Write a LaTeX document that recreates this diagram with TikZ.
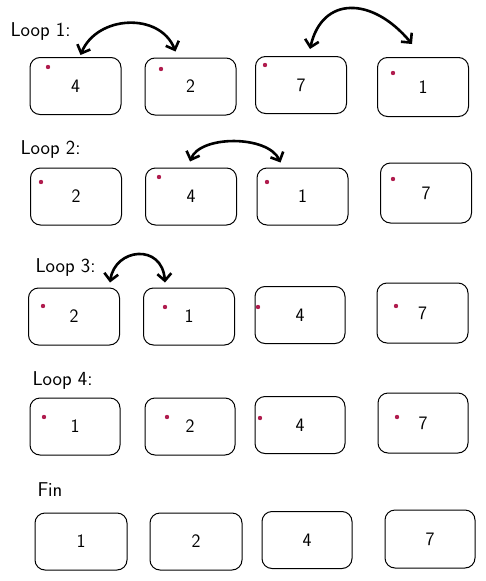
\documentclass[tikz,border=0pt]{standalone}
\usetikzlibrary{arrows.meta}
\begin{document}
\begin{tikzpicture}[x=1pt,y=-1pt,
  cell/.style={draw=black, line width=1pt, rounded corners=10pt, minimum width=91pt, minimum height=57pt, inner sep=0pt, font=\sffamily\fontsize{19}{19}\selectfont},
  lbl/.style={anchor=west, font=\sffamily\fontsize{20}{20}\selectfont},
  swap/.style={line width=2.6pt, line cap=round, {Straight Barb[length=7pt,width=14pt,line width=2.6pt]}-{Straight Barb[length=7pt,width=14pt,line width=2.6pt]}},
  dotc/.style={fill=dotred}]
\definecolor{dotred}{RGB}{176,28,78}
\useasboundingbox (0,0) rectangle (485,581);

% Row 1
\node[lbl] (l1) at (7,32) {Loop 1:};
\node[cell] (b11) at (75.5,86) {4};
\node[cell] (b12) at (190.5,86.5) {2};
\node[cell] (b13) at (301,85) {7};
\node[cell, minimum height=59pt] (b14) at (423,87) {1};
\fill[dotc] (48,67) circle (2.2);
\fill[dotc] (161,69) circle (2.2);
\fill[dotc] (265,65) circle (2.2);
\fill[dotc] (393,73) circle (2.2);
\coordinate (a1) at ([xshift=5pt,yshift=2pt]b11.north);
\coordinate (a2) at ([xshift=-15pt,yshift=6pt]b12.north);
\draw[swap] (a1) .. controls (97,15) and (160,12) .. (a2);
\coordinate (a3) at ([xshift=9pt,yshift=7pt]b13.north);
\coordinate (a4) at ([xshift=-11pt,yshift=13pt]b14.north);
\draw[swap] (a3) .. controls (322,-4) and (372,-4) .. (a4);

% Row 2
\node[lbl] (l2) at (17,150) {Loop 2:};
\node[cell] (b21) at (76,196.5) {2};
\node[cell] (b22) at (191,196.5) {4};
\node[cell] (b23) at (302.5,196.5) {1};
\node[cell, minimum height=60pt] (b24) at (426,193) {7};
\fill[dotc] (41,182) circle (2.2);
\fill[dotc] (159,177) circle (2.2);
\fill[dotc] (267,182) circle (2.2);
\fill[dotc] (393,179) circle (2.2);
\coordinate (c1) at ([xshift=-1pt,yshift=6pt]b22.north);
\coordinate (c2) at ([xshift=-22pt,yshift=5pt]b23.north);
\draw[swap] (c1) .. controls (200,135) and (268,135) .. (c2);

% Row 3
\node[lbl] (l3) at (32,268) {Loop 3:};
\node[cell] (b31) at (74,316.5) {2};
\node[cell] (b32) at (189,316.5) {1};
\node[cell, minimum width=90pt] (b33) at (300,315) {4};
\node[cell, minimum height=60pt] (b34) at (422.5,313) {7};
\fill[dotc] (43,306) circle (2.2);
\fill[dotc] (165,307) circle (2.2);
\fill[dotc] (258,307) circle (2.2);
\fill[dotc] (396,306) circle (2.2);
\coordinate (d1) at ([xshift=36pt,yshift=5pt]b31.north);
\coordinate (d2) at ([xshift=-24pt,yshift=5pt]b32.north);
\draw[swap] (d1) .. controls (115,248) and (162,243) .. (d2);

% Row 4
\node[lbl] (l4) at (29,381) {Loop 4:};
\node[cell, minimum width=90pt] (b41) at (75,426.5) {1};
\node[cell, minimum width=90pt] (b42) at (190,426.5) {2};
\node[cell, minimum width=90pt] (b43) at (300,425) {4};
\node[cell, minimum width=90pt, minimum height=60pt] (b44) at (423,423) {7};
\fill[dotc] (44,417) circle (2.2);
\fill[dotc] (167,417) circle (2.2);
\fill[dotc] (260,418) circle (2.2);
\fill[dotc] (397,417) circle (2.2);

% Fin
\node[lbl] (l5) at (34,490) {Fin};
\node[cell, minimum width=92pt] (b51) at (81,541.5) {1};
\node[cell, minimum width=92pt] (b52) at (196,541.5) {2};
\node[cell, minimum width=90pt] (b53) at (307,540) {4};
\node[cell, minimum width=90pt, minimum height=58pt] (b54) at (430,539) {7};
\end{tikzpicture}
\end{document}
